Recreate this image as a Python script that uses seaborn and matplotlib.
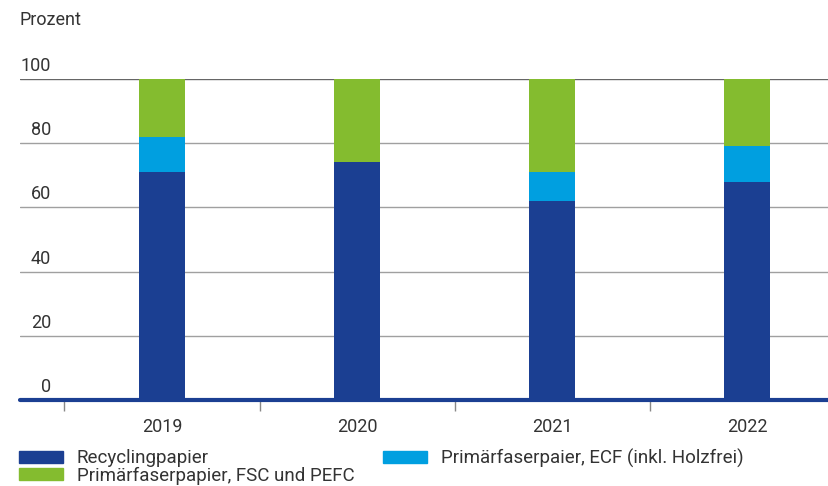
import matplotlib
matplotlib.use("Agg")
import matplotlib.pyplot as plt
from matplotlib.patches import Patch
import seaborn as sns
import pandas as pd

years = ["2019", "2020", "2021", "2022"]
recycling = [71, 74, 62, 68]
ecf = [11, 0, 9, 11]
fsc_pefc = [18, 26, 29, 21]
series_labels = ["Recyclingpapier", "Primärfaserpaier, ECF (inkl. Holzfrei)",
                 "Primärfaserpapier, FSC und PEFC"]
y_ticks = [0, 20, 40, 60, 80, 100]

c_rec, c_ecf, c_fsc = "#1b3f92", "#009fe0", "#84bc2f"
text_color = "#333333"
FS = 13
FS_LEG = 13.5

sns.set_theme(style="white")
plt.rcParams["font.family"] = ["Roboto", "DejaVu Sans"]
plt.rcParams["font.size"] = FS

df = pd.DataFrame({"year": years, "rec": recycling, "ecf": ecf, "fsc": fsc_pefc})
df["top_ecf"] = df["rec"] + df["ecf"]
df["top_fsc"] = df["top_ecf"] + df["fsc"]

W, H = 829, 486
fig = plt.figure(figsize=(W / 100, H / 100), dpi=100)
ax = fig.add_axes([20 / W, (H - 400) / H, 809 / W, (400 - 79) / H])

w = 0.236
for col, color in [("top_fsc", c_fsc), ("top_ecf", c_ecf), ("rec", c_rec)]:
    sns.barplot(data=df, x="year", y=col, color=color, width=w, ax=ax,
                saturation=1, edgecolor="none", linewidth=0, zorder=3)

ax.set_xlim(-0.728, 3.42)
ax.set_ylim(0, 100)
for s in ax.spines.values():
    s.set_visible(False)
ax.set_xlabel("")
ax.set_ylabel("")

# grid lines, value labels right-aligned just above each line
for v in y_ticks[1:]:
    ax.axhline(v, color="#a0a0a0" if v < 100 else "#666666", lw=1.0, zorder=1)
for v in y_ticks:
    ax.annotate(str(v), xy=(31 / 809, v), xycoords=("axes fraction", "data"),
                xytext=(0, 8), textcoords="offset pixels",
                ha="right", va="baseline", color=text_color, fontsize=FS)
ax.axhline(0, color=c_rec, lw=3, zorder=4, clip_on=False)

# category boundary ticks, year labels centred under the bars
ax.set_yticks([])
ax.set_xticks([-0.5, 0.5, 1.5, 2.5])
ax.set_xticklabels([])
ax.set_xticks(range(len(years)), minor=True)
ax.set_xticklabels(years, minor=True)
ax.tick_params(axis="x", which="major", length=8, width=1, color="#888888",
               direction="out", bottom=True)
ax.tick_params(axis="x", which="minor", length=0, pad=13, labelsize=FS,
               labelcolor=text_color)

fig.text(20 / W, 1 - 20 / H, "Prozent", ha="left", va="center",
         color=text_color, fontsize=FS)

fs_px = FS_LEG * 100 / 72
leg_kw = dict(frameon=False, fontsize=FS_LEG, handlelength=44 / fs_px,
              handleheight=11 / fs_px, handletextpad=14 / fs_px,
              labelspacing=-0.05, borderpad=0, borderaxespad=0,
              labelcolor=text_color)
fig.legend(handles=[Patch(color=c_rec, label=series_labels[0]),
                    Patch(color=c_fsc, label=series_labels[2])],
           loc="center left", bbox_to_anchor=(19 / W, 1 - 467 / H), **leg_kw)
fig.legend(handles=[Patch(color=c_ecf, label=series_labels[1])],
           loc="center left", bbox_to_anchor=(383 / W, 1 - 458 / H), **leg_kw)

fig.savefig("out.png", dpi=100)
